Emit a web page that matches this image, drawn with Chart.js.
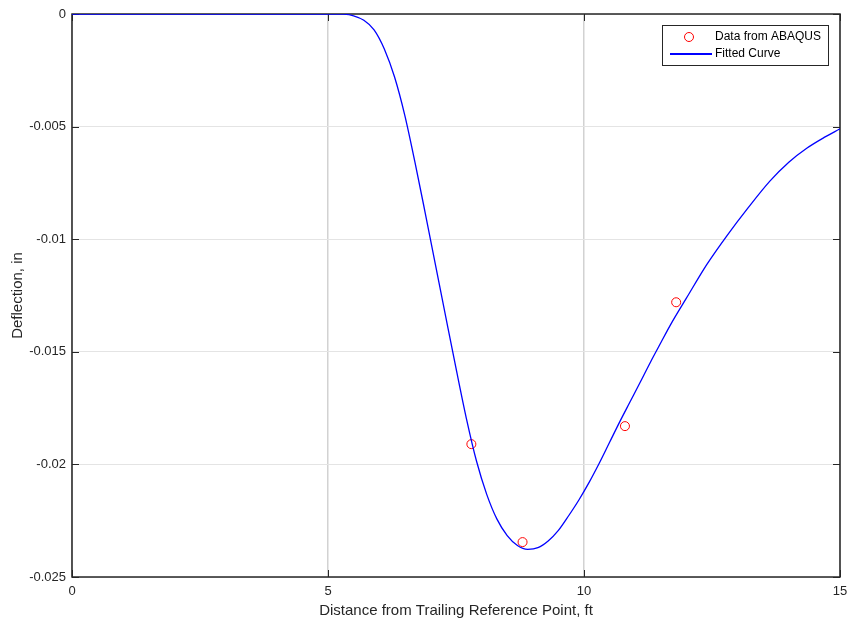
<!DOCTYPE html>
<html>
<head>
<meta charset="utf-8">
<style>
  html, body { margin: 0; padding: 0; background: #fff; }
  #wrap { width: 848px; height: 623px; }
</style>
<script src="https://cdn.jsdelivr.net/npm/chart.js@4/dist/chart.umd.min.js"></script>
</head>
<body>
<div id="wrap"><canvas id="myChart" width="848" height="623"></canvas></div>
<script>
// ABAQUS sample points
const dataX = [7.8, 8.8, 10.8, 11.8];
const dataY = [-0.0191, -0.02345, -0.0183, -0.0128];

// fitted curve
const curveX = [0, 5.1, 5.3, 5.5, 5.7, 5.9, 6.1, 6.3, 6.5, 6.7, 6.9, 7.1, 7.3, 7.5, 7.7, 7.9, 8.1, 8.3, 8.5, 8.7, 8.9,
  9.1, 9.3, 9.5, 9.7, 9.9, 10.1, 10.3, 10.5, 10.7, 10.9, 11.1, 11.3, 11.5, 11.7, 12.0, 12.4, 12.79, 13.2, 13.63,
  14.0, 14.35, 14.7, 15];
const curveY = [0, 0, -0.00001, -0.00008, -0.00028, -0.0007, -0.00155, -0.0028, -0.0045, -0.0066, -0.00885,
  -0.01115, -0.01345, -0.01573, -0.01793, -0.01985, -0.02133, -0.02243, -0.02316, -0.0236, -0.02377,
  -0.0237, -0.0234, -0.02293, -0.02228, -0.02158, -0.0208, -0.01994, -0.01902, -0.0181, -0.01722, -0.01634,
  -0.01545, -0.0146, -0.01376, -0.01262, -0.01112, -0.00985, -0.00862, -0.00742, -0.00658, -0.00596, -0.00547, -0.0051];

const xTicks = [0, 5, 10, 15];
const yTicks = [0, -0.005, -0.01, -0.015, -0.02, -0.025];

const FONT = '"Liberation Sans", Arial, Helvetica, sans-serif';
const INK = '#262626';

const points = dataX.map((x, i) => ({ x: x, y: dataY[i] }));
const curve = curveX.map((x, i) => ({ x: x, y: curveY[i] }));

// axes box (drawn under the data) and inward tick marks
const boxPlugin = {
  id: 'box',
  beforeDatasetsDraw(chart) {
    const { ctx, chartArea: a, scales } = chart;
    ctx.save();
    ctx.strokeStyle = INK;
    ctx.lineWidth = 1.5;
    ctx.strokeRect(a.left, a.top, a.right - a.left, a.bottom - a.top);
    ctx.lineWidth = 1;
    ctx.beginPath();
    xTicks.forEach(v => {
      const px = Math.round(scales.x.getPixelForValue(v)) + 0.5;
      ctx.moveTo(px, a.bottom); ctx.lineTo(px, a.bottom - 7);
      ctx.moveTo(px, a.top); ctx.lineTo(px, a.top + 7);
    });
    yTicks.forEach(v => {
      const py = Math.round(scales.y.getPixelForValue(v)) + 0.5;
      ctx.moveTo(a.left, py); ctx.lineTo(a.left + 7, py);
      ctx.moveTo(a.right, py); ctx.lineTo(a.right - 7, py);
    });
    ctx.stroke();
    ctx.restore();
  }
};

// matlab style legend in the upper right corner
const legendPlugin = {
  id: 'matLegend',
  afterDraw(chart) {
    const { ctx, chartArea: a } = chart;
    const ds = chart.data.datasets;
    const w = 166, h = 40;
    const x0 = a.right - 12 - w, y0 = a.top + 11;
    ctx.save();
    ctx.fillStyle = '#fff';
    ctx.fillRect(x0, y0, w, h);
    ctx.strokeStyle = INK;
    ctx.lineWidth = 1;
    ctx.strokeRect(x0 + 0.5, y0 + 0.5, w, h);

    ctx.strokeStyle = ds[0].borderColor;
    ctx.beginPath();
    ctx.arc(x0 + 27, y0 + 12, 4.5, 0, Math.PI * 2);
    ctx.stroke();

    ctx.strokeStyle = ds[1].borderColor;
    ctx.lineWidth = 2;
    ctx.beginPath();
    ctx.moveTo(x0 + 8, y0 + 29);
    ctx.lineTo(x0 + 50, y0 + 29);
    ctx.stroke();

    ctx.fillStyle = '#000';
    ctx.font = '12px ' + FONT;
    ctx.textBaseline = 'middle';
    ctx.fillText(ds[0].label, x0 + 53, y0 + 12);
    ctx.fillText(ds[1].label, x0 + 53, y0 + 29);
    ctx.restore();
  }
};

const ctx = document.getElementById('myChart').getContext('2d');

new Chart(ctx, {
  type: 'scatter',
  data: {
    datasets: [
      {
        label: 'Data from ABAQUS',
        data: points,
        showLine: false,
        pointStyle: 'circle',
        pointRadius: 4.5,
        pointBorderWidth: 1,
        borderColor: '#ff0000',
        backgroundColor: 'rgba(0,0,0,0)',
        order: 1
      },
      {
        label: 'Fitted Curve',
        data: curve,
        showLine: true,
        pointRadius: 0,
        borderColor: '#0000ff',
        borderWidth: 1.3,
        cubicInterpolationMode: 'monotone',
        order: 0
      }
    ]
  },
  options: {
    responsive: false,
    animation: false,
    layout: { padding: { left: 0, right: 8, top: 14, bottom: 0 } },
    plugins: {
      legend: { display: false },
      tooltip: { enabled: false }
    },
    scales: {
      x: {
        type: 'linear',
        min: 0,
        max: 15,
        afterFit(scale) {
          scale.height = 46;
          scale.paddingLeft = 0;
          scale.paddingRight = 0;
        },
        afterBuildTicks(scale) { scale.ticks = xTicks.map(v => ({ value: v })); },
        border: { display: false },
        grid: { color: '#d2d2d2', lineWidth: 1.5, drawTicks: false },
        ticks: {
          padding: 7,
          color: INK,
          font: { family: FONT, size: 13 },
          callback: v => String(v)
        },
        title: {
          display: true,
          text: 'Distance from Trailing Reference Point, ft',
          color: INK,
          font: { family: FONT, size: 15 },
          padding: { top: 0, bottom: 3 }
        }
      },
      y: {
        type: 'linear',
        min: -0.025,
        max: 0,
        afterFit(scale) { scale.width = 72; },
        afterBuildTicks(scale) { scale.ticks = yTicks.map(v => ({ value: v })); },
        border: { display: false },
        grid: { color: '#e4e4e4', lineWidth: 1, drawTicks: false },
        ticks: {
          padding: 6,
          color: INK,
          font: { family: FONT, size: 13 },
          callback: v => String(parseFloat(v.toFixed(3)))
        },
        title: {
          display: true,
          text: 'Deflection, in',
          color: INK,
          font: { family: FONT, size: 15 },
          padding: { top: 9, bottom: 0 }
        }
      }
    }
  },
  plugins: [boxPlugin, legendPlugin]
});
</script>
</body>
</html>
